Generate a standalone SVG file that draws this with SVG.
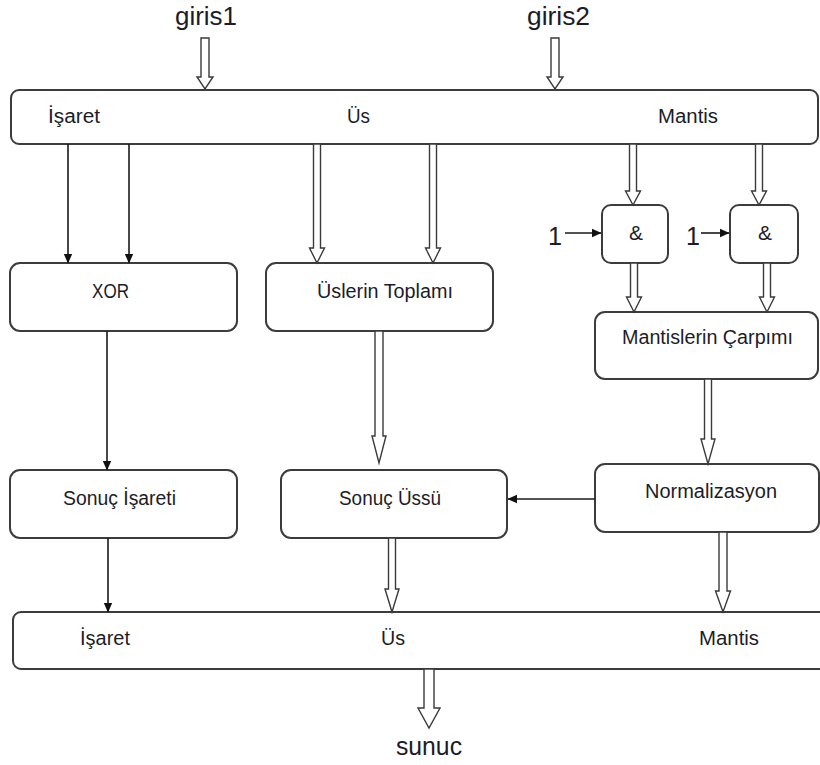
<svg xmlns="http://www.w3.org/2000/svg" width="820" height="765" viewBox="0 0 820 765">
  <defs>
    <marker id="solidHead" markerWidth="10" markerHeight="12" refX="9" refY="5" orient="auto" markerUnits="userSpaceOnUse">
      <path d="M0,0.8 L9.5,5 L0,9.2 Z" fill="#111"/>
    </marker>
    <style>
      .box { fill: #fff; stroke: #3c3c3c; stroke-width: 2; }
      .lbl { font-family: "Liberation Sans", Arial, sans-serif; font-size: 20px; fill: #1c1c28; }
      .big { font-family: "Liberation Sans", Arial, sans-serif; font-size: 25px; fill: #1c1c28; }
      .amp { font-family: "Liberation Sans", Arial, sans-serif; font-size: 21px; fill: #1c1c28; }
      .thin { fill: none; stroke: #1a1a1a; stroke-width: 1.6; marker-end: url(#solidHead); }
      .hollow { fill: #fff; stroke: #3a3a3a; stroke-width: 1.4; stroke-linejoin: miter; }
    </style>
  </defs>

  <rect width="820" height="765" fill="#fff"/>

  <!-- inputs -->
  <text class="big" x="175" y="25" textLength="62" lengthAdjust="spacingAndGlyphs">giris1</text>
  <text class="big" x="527" y="25" textLength="63" lengthAdjust="spacingAndGlyphs">giris2</text>

  <!-- input word: sign / exponent / mantissa -->
  <g id="input-word">
    <rect class="box" x="11" y="90" width="807" height="54" rx="8"/>
    <text class="lbl" x="48" y="123" textLength="52" lengthAdjust="spacingAndGlyphs">İşaret</text>
    <text class="lbl" x="347" y="123" textLength="23" lengthAdjust="spacingAndGlyphs">Üs</text>
    <text class="lbl" x="658" y="123" textLength="60" lengthAdjust="spacingAndGlyphs">Mantis</text>
  </g>

  <g id="xor">
    <rect class="box" x="10" y="263" width="227" height="68" rx="10"/>
    <text class="lbl" x="92" y="298" textLength="37" lengthAdjust="spacingAndGlyphs">XOR</text>
  </g>

  <g id="exp-add">
    <rect class="box" x="266" y="263" width="227" height="68" rx="10"/>
    <text class="lbl" x="317" y="298" textLength="136" lengthAdjust="spacingAndGlyphs">Üslerin Toplamı</text>
  </g>

  <g id="and1">
    <rect class="box" x="602" y="205" width="66" height="58" rx="9"/>
    <text class="amp" x="629" y="240" textLength="14" lengthAdjust="spacingAndGlyphs">&amp;</text>
  </g>

  <g id="and2">
    <rect class="box" x="730" y="205" width="68" height="58" rx="9"/>
    <text class="amp" x="758" y="240" textLength="14" lengthAdjust="spacingAndGlyphs">&amp;</text>
  </g>

  <g id="const1a">
    <text class="big" x="548" y="245" font-size="26" textLength="14" lengthAdjust="spacingAndGlyphs">1</text>
  </g>
  <g id="const1b">
    <text class="big" x="686" y="245" font-size="26" textLength="14" lengthAdjust="spacingAndGlyphs">1</text>
  </g>

  <g id="mant-mul">
    <rect class="box" x="595" y="312" width="223" height="67" rx="10"/>
    <text class="lbl" x="622" y="344" textLength="171" lengthAdjust="spacingAndGlyphs">Mantislerin Çarpımı</text>
  </g>

  <g id="result-sign">
    <rect class="box" x="10" y="470" width="227" height="68" rx="10"/>
    <text class="lbl" x="63" y="505" textLength="113" lengthAdjust="spacingAndGlyphs">Sonuç İşareti</text>
  </g>

  <g id="result-exp">
    <rect class="box" x="281" y="470" width="226" height="68" rx="10"/>
    <text class="lbl" x="339" y="505" textLength="102" lengthAdjust="spacingAndGlyphs">Sonuç Üssü</text>
  </g>

  <g id="normalize">
    <rect class="box" x="595" y="464" width="224" height="68" rx="10"/>
    <text class="lbl" x="645" y="498" textLength="132" lengthAdjust="spacingAndGlyphs">Normalizasyon</text>
  </g>

  <!-- output word -->
  <g id="output-word">
    <rect class="box" x="13" y="612" width="830" height="57" rx="8"/>
    <text class="lbl" x="80" y="645" textLength="50" lengthAdjust="spacingAndGlyphs">İşaret</text>
    <text class="lbl" x="381" y="645" textLength="24" lengthAdjust="spacingAndGlyphs">Üs</text>
    <text class="lbl" x="699" y="645" textLength="60" lengthAdjust="spacingAndGlyphs">Mantis</text>
  </g>

  <text class="big" x="396" y="755" font-size="24" textLength="66" lengthAdjust="spacingAndGlyphs">sunuc</text>

  <g id="connectors">
    <!-- bus arrows (hollow block arrows) -->
    <path class="hollow" d="M201,38 V77 H197 L205,89 L213,77 H209 V38 Z"/>
    <path class="hollow" d="M551,38 V77 H547 L555,89 L563,77 H559 V38 Z"/>

    <path class="hollow" d="M313.5,144 V248 H309.5 L317,263 L324.5,248 H320.5 V144 Z"/>
    <path class="hollow" d="M429.5,144 V248 H425.5 L433,263 L440.5,248 H436.5 V144 Z"/>

    <path class="hollow" d="M629.5,144 V191 H625.5 L633,205 L640.5,191 H636.5 V144 Z"/>
    <path class="hollow" d="M755.5,144 V191 H751.5 L759,205 L766.5,191 H762.5 V144 Z"/>

    <path class="hollow" d="M630.5,263 V297 H626.5 L634,312 L641.5,297 H637.5 V263 Z"/>
    <path class="hollow" d="M763.5,263 V297 H759.5 L767,312 L774.5,297 H770.5 V263 Z"/>

    <path class="hollow" d="M375,331 V436 H372 L379,463 L386,436 H383 V331 Z"/>
    <path class="hollow" d="M704.5,379 V439 H701 L708,464 L715,439 H711.5 V379 Z"/>

    <path class="hollow" d="M388.5,538 V589 H385 L392,612 L399,589 H395.5 V538 Z"/>
    <path class="hollow" d="M719,532 V591 H715.5 L723,612 L730.5,591 H727 V532 Z"/>

    <path class="hollow" d="M424,669 V708 H418 L429,728 L440,708 H434 V669 Z"/>

    <!-- single-bit arrows -->
    <line class="thin" x1="68" y1="144" x2="68" y2="263"/>
    <line class="thin" x1="129" y1="144" x2="129" y2="263"/>
    <line class="thin" x1="107" y1="331" x2="107" y2="470"/>
    <line class="thin" x1="108" y1="538" x2="108" y2="612"/>
    <line class="thin" x1="595" y1="499" x2="508" y2="499"/>
    <line class="thin" x1="565" y1="233" x2="601" y2="233"/>
    <line class="thin" x1="701" y1="233" x2="729" y2="233"/>
  </g>
</svg>
